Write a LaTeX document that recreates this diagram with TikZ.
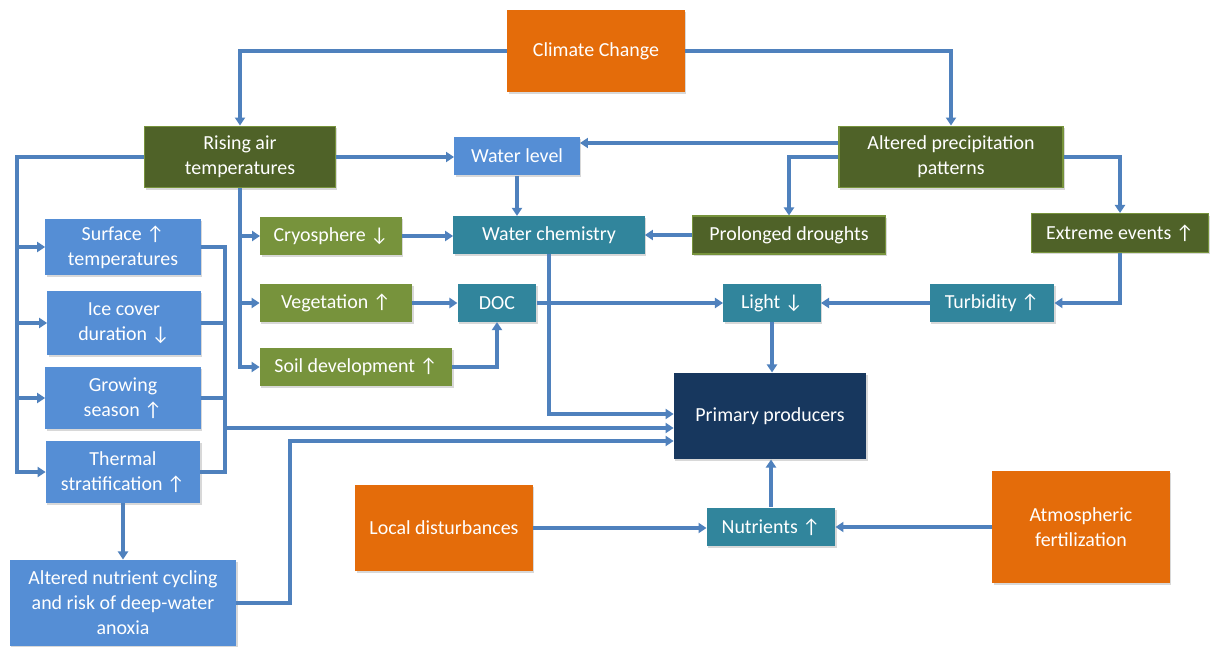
\documentclass[tikz,border=0pt]{standalone}
\usepackage{fontspec}
\setmainfont{Carlito}
\usetikzlibrary{arrows.meta,calc,shadows}
\definecolor{cOrange}{HTML}{E46C0A}
\definecolor{cDGreen}{HTML}{4F6228}
\definecolor{cLGreen}{HTML}{77933C}
\definecolor{cBlue}{HTML}{558ED5}
\definecolor{cTeal}{HTML}{31859C}
\definecolor{cNavy}{HTML}{17375E}
\definecolor{cArrow}{HTML}{4F81BD}
\newcommand\uar{↑}
\newcommand\dar{↓}
\begin{document}
\begin{tikzpicture}[x=1bp,y=-1bp,
  base/.style={rectangle, inner sep=0pt, text=white, align=center,
    font=\fontsize{20}{25}\selectfont,
    drop shadow={shadow xshift=1.5bp,shadow yshift=-2bp,opacity=0.3}},
  bxOrange/.style={base, fill=cOrange},
  bxDGreen/.style={base, fill=cDGreen, draw=cLGreen, line width=1.2bp},
  bxLGreen/.style={base, fill=cLGreen},
  bxBlue/.style={base, fill=cBlue},
  bxTeal/.style={base, fill=cTeal},
  bxNavy/.style={base, fill=cNavy},
  ln/.style={draw=cArrow, line width=3.5bp},
  arr/.style={ln, -{Triangle[length=8bp,width=10bp]}}]
\useasboundingbox (0,0) rectangle (1210,647);
\fill[white] (0,0) rectangle (1210,647);

% nodes
\node[bxOrange, minimum width=178, minimum height=83] (cc) at (596,51) {Climate Change};
\node[bxDGreen, minimum width=192, minimum height=62] (rat) at (240,157) {Rising air\\temperatures};
\node[bxDGreen, minimum width=225, minimum height=62] (app) at (951,157) {Altered precipitation\\patterns};
\node[bxBlue, minimum width=126, minimum height=39] (wl) at (517,156) {Water level};
\node[bxTeal, minimum width=192, minimum height=38] (wc) at (549,235) {Water chemistry};
\node[bxDGreen, minimum width=194, minimum height=38] (pd) at (789,235) {Prolonged droughts};
\node[bxDGreen, minimum width=177, minimum height=39] (ee) at (1120,233) {Extreme events \uar};
\node[bxLGreen, minimum width=142, minimum height=38] (cry) at (331,236) {Cryosphere \dar};
\node[bxLGreen, minimum width=153, minimum height=39] (veg) at (336,303) {Vegetation \uar};
\node[bxLGreen, minimum width=193, minimum height=39] (soil) at (356,367) {Soil development \uar};
\node[bxTeal, minimum width=79, minimum height=38] (doc) at (497,303) {DOC};
\node[bxTeal, minimum width=98, minimum height=38] (light) at (772,303) {Light \dar};
\node[bxTeal, minimum width=125, minimum height=38] (turb) at (992,303) {Turbidity \uar};
\node[bxNavy, minimum width=193, minimum height=87] (pp) at (770,416) {Primary producers};
\node[bxTeal, minimum width=129, minimum height=39] (nut) at (771,527) {Nutrients \uar};
\node[bxOrange, minimum width=178, minimum height=112] (af) at (1081,527) {Atmospheric\\fertilization};
\node[bxOrange, minimum width=178, minimum height=87] (ld) at (444,528) {Local disturbances};
\node[bxBlue, minimum width=156, minimum height=57] (st) at (123,247) {Surface \uar\\temperatures};
\node[bxBlue, minimum width=154, minimum height=64] (ice) at (124,323) {Ice cover\\duration \dar};
\node[bxBlue, minimum width=156, minimum height=63] (gs) at (123,398) {Growing\\season \uar};
\node[bxBlue, minimum width=155, minimum height=62] (ts) at (123,472) {Thermal\\stratification \uar};
\node[bxBlue, minimum width=227, minimum height=87] (anc) at (123,603) {Altered nutrient cycling\\and risk of deep-water\\anoxia};

% helper coordinates
\coordinate (bx) at (17,0);
\coordinate (rx) at (225,0);
\coordinate (nx) at (290,0);
\coordinate (a1) at ($(app.west)+(0,-14)$);
\coordinate (p1) at ($(pp.west)+(0,-2)$);
\coordinate (p2) at ($(pp.west)+(0,12)$);
\coordinate (p3) at ($(pp.west)+(0,25)$);

% connectors
\draw[arr] (cc.west) -| (rat.north);
\draw[arr] (cc.east) -| (app.north);
\draw[arr] (rat.west) -| (bx |- ts.west) -- (ts.west);
\foreach \n in {st,ice,gs} \draw[arr] (bx |- \n.west) -- (\n.west);
\draw[arr] (rat.south) |- (soil.west);
\draw[arr] (rat.south |- cry.west) -- (cry.west);
\draw[arr] (rat.south |- veg.west) -- (veg.west);
\draw[arr] (rat.east) -- (rat.east -| wl.west);
\draw[arr] (a1) -- (a1 -| wl.east);
\draw[arr] (app.west) -| (pd.north);
\draw[arr] (app.east) -| (ee.north);
\draw[arr] (ee.south) |- (turb.east);
\draw[arr] (turb.west) -- (light.east);
\draw[arr] (light.south) -- (light.south |- pp.north);
\draw[arr] (wl.south) -- (wl.south |- wc.north);
\draw[arr] (cry.east) -- (cry.east -| wc.west);
\draw[arr] (pd.west) -- (pd.west -| wc.east);
\draw[arr] (veg.east) -- (veg.east -| doc.west);
\draw[arr] (soil.east) -| (doc.south);
\draw[arr] (doc.east) -- (doc.east -| light.west);
\draw[arr] (wc.south) |- (p1);
\draw[ln] (st.east) -- (rx |- st.east) -- (rx |- ts.east) -- (ts.east);
\draw[ln] (ice.east) -- (rx |- ice.east);
\draw[ln] (gs.east) -- (rx |- gs.east);
\draw[arr] (rx |- p2) -- (p2);
\draw[arr] (anc.east) -| (nx |- p3) -- (p3);
\draw[arr] (ts.south) -- (ts.south |- anc.north);
\draw[arr] (nut.north) -- (nut.north |- pp.south);
\draw[arr] (ld.east) -- (ld.east -| nut.west);
\draw[arr] (af.west) -- (af.west -| nut.east);
\end{tikzpicture}
\end{document}
